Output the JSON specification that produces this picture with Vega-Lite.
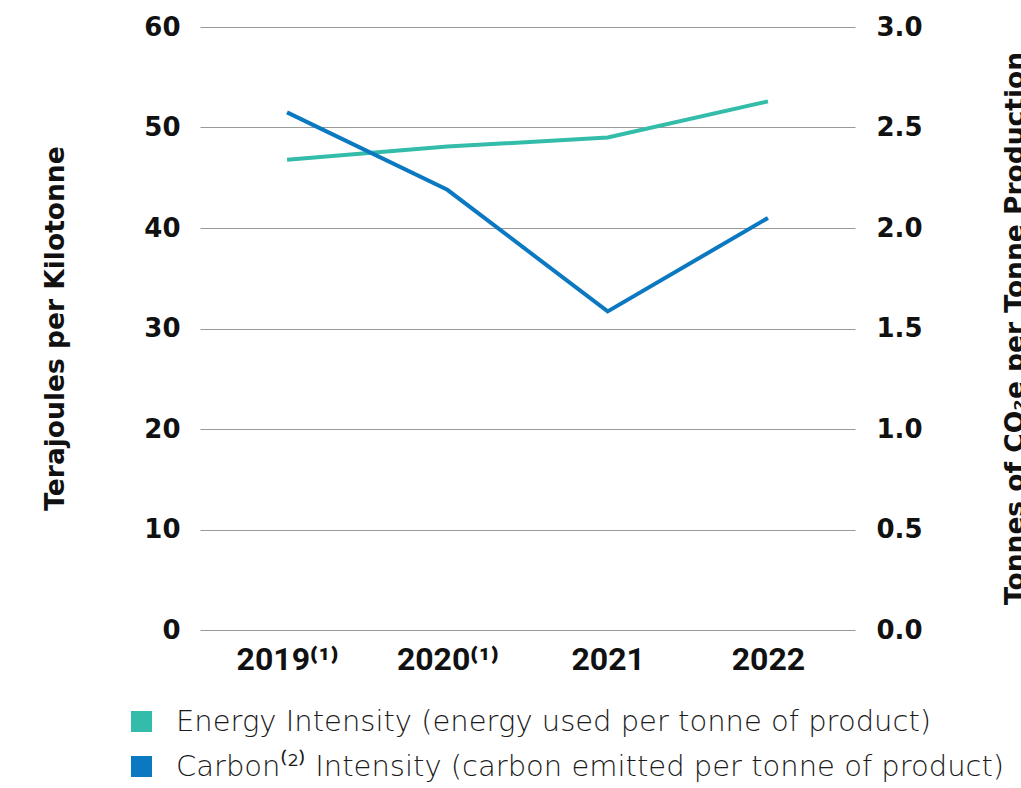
{
  "$schema": "https://vega.github.io/schema/vega-lite/v6.json",
  "autosize": "none",
  "padding": {"left": 200, "top": 27, "right": 166, "bottom": 158},
  "width": 655,
  "height": 603,
  "background": "white",
  "data": {"values": [
    {"year": "2019⁽¹⁾", "energy": 46.8, "carbon": 2.575},
    {"year": "2020⁽¹⁾", "energy": 48.1, "carbon": 2.19},
    {"year": "2021", "energy": 49.0, "carbon": 1.585},
    {"year": "2022", "energy": 52.6, "carbon": 2.05}
  ]},
  "config": {
    "view": {"stroke": null},
    "font": "DejaVu Sans"
  },
  "encoding": {
    "x": {"field": "year", "type": "ordinal", "sort": null,
      "scale": {"type": "point", "padding": 0.543},
      "axis": {"title": null, "labelAngle": 0, "ticks": false, "domain": false, "grid": false,
        "labelFont": "Roboto", "labelFontWeight": "bold", "labelFontSize": 32, "labelColor": "#111", "labelPadding": 14,
        "labelExpr": "datum.value == '2021' ? '\u00a0\u00a0\u00a02021' : datum.value == '2020⁽¹⁾' ? '\u00a0\u00a02020⁽¹⁾' : datum.label"}}
  },
  "layer": [
    {
      "mark": {"type": "line", "strokeWidth": 4},
      "encoding": {
        "y": {"field": "energy", "type": "quantitative",
          "scale": {"domain": [0, 60]},
          "axis": {"title": "Terajoules per Kilotonne", "values": [0,10,20,30,40,50,60], "orient": "left",
            "ticks": false, "domain": false, "grid": true, "gridColor": "#9a9a9a", "gridWidth": 1,
            "labelFont": "DejaVu Sans", "labelFontWeight": "bold", "labelFontSize": 26, "labelColor": "#111", "labelPadding": 20,
            "titleFont": "DejaVu Sans", "titleFontWeight": "bold", "titleFontSize": 26.5, "titleColor": "#111",
            "titleAngle": 270, "titleX": -145, "titleY": 301, "titleBaseline": "middle", "titleAlign": "center"}},
        "color": {"datum": "Energy Intensity (energy used per tonne of product)", "type": "nominal",
          "scale": {"domain": ["Energy Intensity (energy used per tonne of product)", "Carbon⁽²⁾ Intensity (carbon emitted per tonne of product)"],
                    "range": ["#33bca9", "#0b78c2"]},
          "legend": {"title": null, "orient": "none", "legendX": -73, "legendY": 680, "symbolType": "square", "symbolSize": 440,
            "labelFont": "DejaVu Sans", "labelFontWeight": 200, "labelFontSize": 29, "labelColor": "#1a1a1a", "labelOffset": 20, "rowPadding": 15,
            "labelLimit": 900,
            "encode": {"symbols": {"update": {"fill": {"scale": "color", "field": "value"}, "strokeWidth": {"value": 0}}}}}}
      }
    },
    {
      "mark": {"type": "line", "strokeWidth": 4},
      "encoding": {
        "y": {"field": "carbon", "type": "quantitative",
          "scale": {"domain": [0, 3]},
          "axis": {"title": "Tonnes of CO₂e per Tonne Production", "values": [0,0.5,1,1.5,2,2.5,3], "format": ".1f", "orient": "right",
            "ticks": false, "domain": false, "grid": false,
            "labelFont": "DejaVu Sans", "labelFontWeight": "bold", "labelFontSize": 26, "labelColor": "#111", "labelPadding": 21,
            "titleFont": "DejaVu Sans", "titleFontWeight": "bold", "titleFontSize": 26.5, "titleColor": "#111",
            "titleAngle": 270, "titleX": 168, "titleY": 301, "titleBaseline": "alphabetic", "titleAlign": "center"}},
        "color": {"datum": "Carbon⁽²⁾ Intensity (carbon emitted per tonne of product)", "type": "nominal"}
      }
    }
  ],
  "resolve": {"scale": {"y": "independent"}}
}
